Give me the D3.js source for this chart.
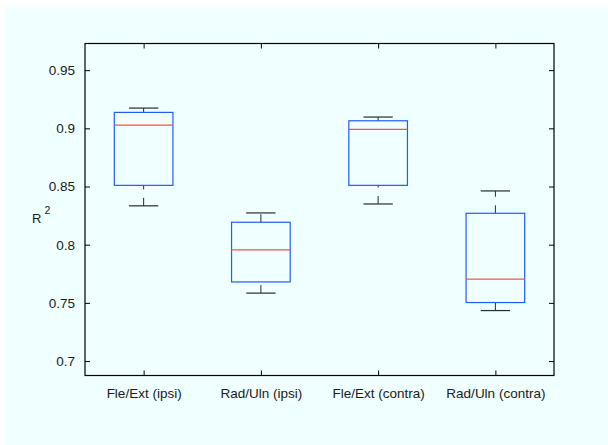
<!DOCTYPE html>
<html>
<head>
<meta charset="utf-8">
<script src="https://cdn.jsdelivr.net/npm/d3@7"></script>
<style>
  html, body { margin: 0; padding: 0; background: #ffffff; }
  svg { display: block; }
  text { font-family: "Liberation Sans", Arial, Helvetica, sans-serif; fill: #1a1a1a; }
</style>
</head>
<body>
<svg id="chart" width="608" height="445"></svg>
<script>
const categories = ["Fle/Ext (ipsi)", "Rad/Uln (ipsi)", "Fle/Ext (contra)", "Rad/Uln (contra)"];
const lowerWhisker = [0.8334, 0.7584, 0.8350, 0.7434];
const q1 = [0.8510, 0.7680, 0.8510, 0.7503];
const median = [0.9028, 0.7955, 0.8991, 0.7704];
const q3 = [0.9137, 0.8193, 0.9065, 0.8270];
const upperWhisker = [0.9174, 0.8273, 0.9097, 0.8462];
const yTicks = [0.7, 0.75, 0.8, 0.85, 0.9, 0.95];
const yTickLabels = ["0.7", "0.75", "0.8", "0.85", "0.9", "0.95"];

const svg = d3.select("#chart");
const W = 608, H = 445;
const plot = { left: 85, right: 554, top: 43.5, bottom: 375.5 };

svg.append("rect").attr("x", 6).attr("y", 7).attr("width", W - 6).attr("height", H - 7)
  .attr("fill", "#f0ffff");

const x = d3.scaleLinear().domain([0.5, categories.length + 0.5]).range([plot.left, plot.right]);
const y = d3.scaleLinear().domain([0.6876, 0.9729]).range([plot.bottom, plot.top]);

const tickLen = 5;
const idx = categories.map((d, i) => i);

const leftAxis = d3.axisLeft(y).tickValues(yTicks).tickFormat((d, i) => yTickLabels[i])
  .tickSizeInner(-tickLen).tickSizeOuter(0).tickPadding(tickLen + 5);
const gL = svg.append("g").attr("transform", `translate(${plot.left},0)`).call(leftAxis);

const rightAxis = d3.axisRight(y).tickValues(yTicks).tickFormat("")
  .tickSizeInner(-tickLen).tickSizeOuter(0);
const gR = svg.append("g").attr("transform", `translate(${plot.right},0)`).call(rightAxis);

const bottomAxis = d3.axisBottom(x).tickValues(idx.map(i => i + 1)).tickFormat((d) => categories[d - 1])
  .tickSizeInner(-tickLen).tickSizeOuter(0).tickPadding(tickLen + 8);
const gB = svg.append("g").attr("transform", `translate(0,${plot.bottom})`).call(bottomAxis);

const topAxis = d3.axisTop(x).tickValues(idx.map(i => i + 1)).tickFormat("")
  .tickSizeInner(-tickLen).tickSizeOuter(0);
const gT = svg.append("g").attr("transform", `translate(0,${plot.top})`).call(topAxis);

[gL, gR, gB, gT].forEach(g => {
  g.select(".domain").remove();
  g.selectAll(".tick line").attr("stroke", "#000").attr("stroke-width", 1);
  g.selectAll(".tick text").attr("font-size", 13.5).attr("fill", "#1a1a1a")
    .style("font-family", '"Liberation Sans", Arial, Helvetica, sans-serif');
});

svg.append("rect")
  .attr("x", plot.left).attr("y", plot.top)
  .attr("width", plot.right - plot.left).attr("height", plot.bottom - plot.top)
  .attr("fill", "none").attr("stroke", "#000").attr("stroke-width", 1.2);

const boxHalf = 0.25, capHalf = 0.125;
const g = svg.append("g");

idx.forEach(i => {
  const c = i + 1;
  g.append("line")
    .attr("x1", x(c)).attr("x2", x(c))
    .attr("y1", y(lowerWhisker[i])).attr("y2", y(q1[i]))
    .attr("stroke", "#2a2a2a").attr("stroke-width", 1).attr("stroke-dasharray", "8,8.5");
  g.append("line")
    .attr("x1", x(c)).attr("x2", x(c))
    .attr("y1", y(q3[i])).attr("y2", y(upperWhisker[i]))
    .attr("stroke", "#2a2a2a").attr("stroke-width", 1).attr("stroke-dasharray", "8,8.5");
  [lowerWhisker[i], upperWhisker[i]].forEach(v => {
    g.append("line")
      .attr("x1", x(c - capHalf)).attr("x2", x(c + capHalf))
      .attr("y1", y(v)).attr("y2", y(v))
      .attr("stroke", "#2a2a2a").attr("stroke-width", 1.2);
  });
  g.append("rect")
    .attr("x", x(c - boxHalf)).attr("y", y(q3[i]))
    .attr("width", x(c + boxHalf) - x(c - boxHalf))
    .attr("height", y(q1[i]) - y(q3[i]))
    .attr("fill", "none").attr("stroke", "#1f5cff").attr("stroke-width", 1.2);
  g.append("line")
    .attr("x1", x(c - boxHalf)).attr("x2", x(c + boxHalf))
    .attr("y1", y(median[i])).attr("y2", y(median[i]))
    .attr("stroke", "#f05448").attr("stroke-width", 1.2);
});

const yl = svg.append("text").attr("x", 32).attr("y", 223).attr("font-size", 13);
yl.append("tspan").text("R");
yl.append("tspan").attr("dx", 3).attr("dy", -9).attr("font-size", 10.5).text("2");
</script>
</body>
</html>
